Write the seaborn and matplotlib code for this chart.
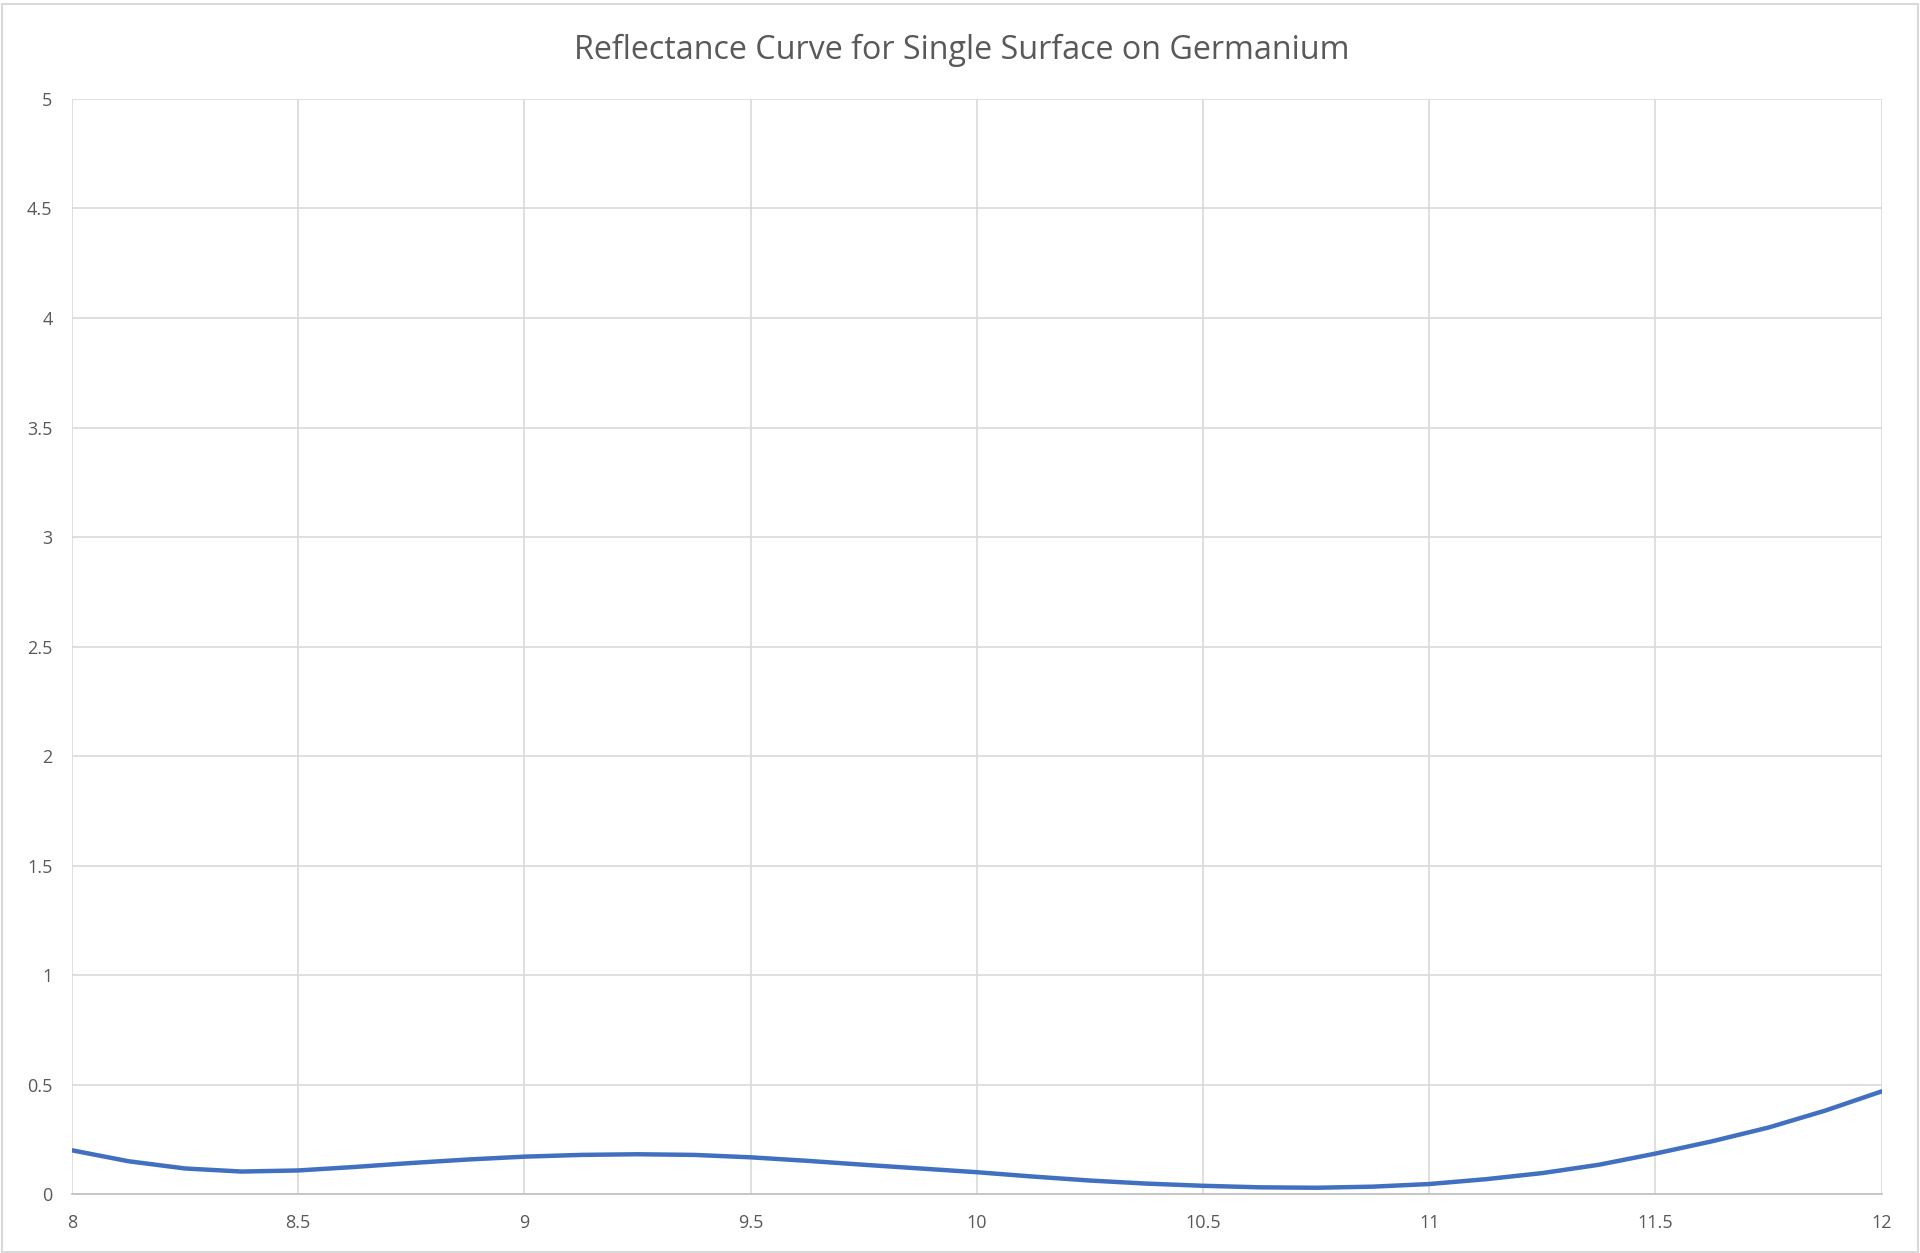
import matplotlib.pyplot as plt
import seaborn as sns
import pandas as pd

# Data (wavelength in microns vs reflectance %)
wavelength = [8.0, 8.125, 8.25, 8.375, 8.5, 8.625, 8.75, 8.875, 9.0,
              9.125, 9.25, 9.375, 9.5, 9.625, 9.75, 9.875, 10.0,
              10.125, 10.25, 10.375, 10.5, 10.625, 10.75, 10.875, 11.0,
              11.125, 11.25, 11.375, 11.5, 11.625, 11.75, 11.875, 12.0]
reflectance = [0.200, 0.150, 0.117, 0.103, 0.108, 0.124, 0.142, 0.158, 0.171,
               0.179, 0.182, 0.179, 0.168, 0.152, 0.134, 0.117, 0.100,
               0.080, 0.062, 0.048, 0.038, 0.031, 0.029, 0.034, 0.046,
               0.068, 0.096, 0.134, 0.185, 0.241, 0.304, 0.381, 0.469]
x_ticks = [8, 8.5, 9, 9.5, 10, 10.5, 11, 11.5, 12]
y_ticks = [0, 0.5, 1, 1.5, 2, 2.5, 3, 3.5, 4, 4.5, 5]
x_labels = ['8', '8.5', '9', '9.5', '10', '10.5', '11', '11.5', '12']
y_labels = ['0', '0.5', '1', '1.5', '2', '2.5', '3', '3.5', '4', '4.5', '5']

df = pd.DataFrame({'Wavelength': wavelength, 'Reflectance': reflectance})

sns.set_theme(style='white')
plt.rcParams['font.family'] = ['Open Sans', 'DejaVu Sans']

fig = plt.figure(figsize=(19.2, 12.53), dpi=100)
ax = fig.add_axes([0.0375, 0.047, 0.9425, 0.874])

sns.lineplot(data=df, x='Wavelength', y='Reflectance', ax=ax,
             color='#4270C0', linewidth=3.2)

ax.set_xlim(8, 12)
ax.set_ylim(0, 5)
ax.set_xticks(x_ticks)
ax.set_xticklabels(x_labels)
ax.set_yticks(y_ticks)
ax.set_yticklabels(y_labels)
ax.grid(True, color='#D9D9D9', linewidth=1.2)
ax.set_axisbelow(True)
ax.tick_params(axis='both', length=0, labelsize=13, colors='#595959')
ax.tick_params(axis='x', pad=14)
ax.tick_params(axis='y', pad=14)
for side in ['top', 'right', 'left']:
    ax.spines[side].set_visible(False)
ax.spines['bottom'].set_color('#BFBFBF')
ax.spines['bottom'].set_linewidth(1.2)
ax.set_xlabel('')
ax.set_ylabel('')

fig.text(0.501, 0.960, 'Reflectance Curve for Single Surface on Germanium',
         ha='center', va='center', fontsize=23.2, color='#595959')

# light chart-area border
border = plt.Rectangle((0.001, 0.001), 0.998, 0.996, transform=fig.transFigure,
                       fill=False, edgecolor='#D9D9D9', linewidth=1.5)
fig.patches.append(border)

plt.savefig('out.png', dpi=100)
